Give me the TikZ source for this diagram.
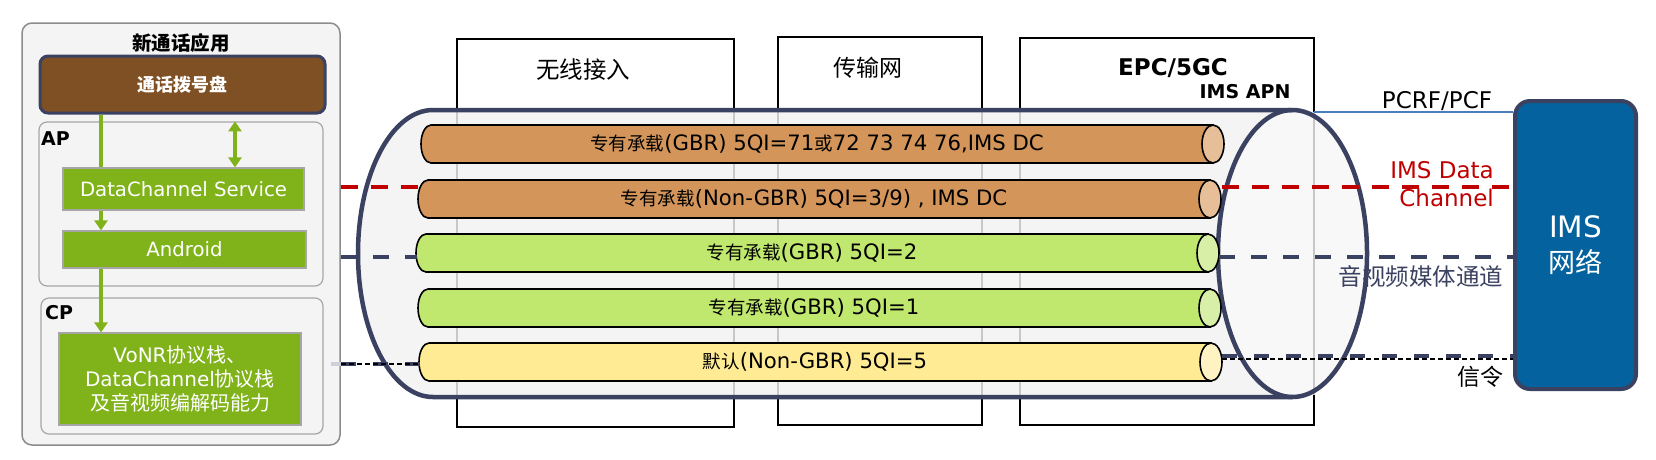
\documentclass[tikz,border=0pt]{standalone}
\usepackage{fontspec}
\setmainfont{DejaVu Sans}
\newfontfamily\cjk{Noto Sans CJK SC}
\usetikzlibrary{arrows.meta}
\definecolor{cNavy}{HTML}{3B4160}
\definecolor{cRed}{HTML}{C00000}
\definecolor{cGreen}{HTML}{80B219}
\definecolor{cBrown}{HTML}{7F5024}
\definecolor{cOrange}{HTML}{D3955A}
\definecolor{cOrangeCap}{HTML}{E6BE98}
\definecolor{cLime}{HTML}{C1E86E}
\definecolor{cLimeCap}{HTML}{D8EFA8}
\definecolor{cYellow}{HTML}{FFEB94}
\definecolor{cYellowCap}{HTML}{FFF3C4}
\definecolor{cIMS}{HTML}{04639E}
\definecolor{cBlueLine}{HTML}{4A7EBB}
\definecolor{cPanel}{HTML}{F4F4F4}
\definecolor{cPanelBorder}{HTML}{8C8C8C}
\definecolor{cSubBorder}{HTML}{A6A6A6}
\definecolor{cColIn}{HTML}{C8C8C8}
\newcommand\zh[1]{{\cjk #1}}
\newcommand\zs[1]{{\cjk\fontsize{18.5}{20}\selectfont #1}}
\newcommand\tube[7]{%
  \path[draw=black, line width=1.6pt, fill=#5] (#4,#2-19) -- (#3+10,#2-19)
    arc[start angle=270, end angle=90, x radius=10, y radius=19] -- (#4,#2+19) -- cycle;
  \path[draw=black, line width=1.6pt, fill=#6] (#4,#2) ellipse[x radius=11, y radius=19];
  \coordinate (#1-w) at (#3,#2);
  \coordinate (#1-e) at (#4+11,#2);
  \node[tubetext] (#1) at ({(#3+#4)/2},#2) {#7};
}
\begin{document}
\begin{tikzpicture}[x=1pt,y=-1pt,
  panel/.style={draw=cPanelBorder, line width=1.5pt, fill=cPanel, rounded corners=10pt, inner sep=0},
  subpanel/.style={draw=cSubBorder, line width=1.2pt, fill=cPanel, rounded corners=8pt, inner sep=0},
  gbox/.style={draw=cSubBorder, line width=1.2pt, fill=cGreen, text=white, inner sep=0, font=\fontsize{19.7}{24}\selectfont},
  lbl/.style={font=\bfseries\fontsize{19}{22}\selectfont, inner sep=0},
  colbox/.style={draw=black, line width=1.2pt, fill=white, inner sep=0},
  tubetext/.style={font=\fontsize{21.2}{24}\selectfont, inner sep=0},
  garrow/.style={draw=cGreen, line width=4pt},
  gtip/.style={-{Triangle[width=13pt,length=10pt]}},
  pipeborder/.style={draw=cNavy, line width=4.5pt},
  reddash/.style={draw=cRed, line width=4pt, dash pattern=on 17pt off 13pt},
  navydash/.style={draw=cNavy, line width=4pt, dash pattern=on 16pt off 16pt},
  sigthick/.style={draw=cNavy, line width=4pt, dash pattern=on 15pt off 17pt},
  sigthin/.style={draw=black, line width=1.5pt, dash pattern=on 5pt off 3pt},
]
\useasboundingbox (0,0) rectangle (1656,459);

% ---------------- left panel ----------------
\node[panel, minimum width=318pt, minimum height=422pt] (app) at (181,234) {};
\node[inner sep=0, font={\cjk\bfseries\fontsize{19.5}{22}\selectfont}] (apptitle) at (181,43) {新通话应用};
\node[draw=cNavy, line width=3pt, fill=cBrown, rounded corners=8pt, minimum width=285pt, minimum height=57pt,
      text=white, inner sep=0, font={\cjk\bfseries\fontsize{18}{22}\selectfont}] (dial) at (182.5,84.5) {通话拨号盘};
\node[subpanel, minimum width=284pt, minimum height=164pt] (ap) at (181,204) {};
\node[lbl, anchor=west] (aplbl) at (41,139) {AP};
\node[gbox, minimum width=241pt, minimum height=42pt] (dcs) at (183.5,189) {DataChannel Service};
\node[gbox, minimum width=243pt, minimum height=37pt] (andr) at (184.5,249.5) {Android};
\node[subpanel, minimum width=282pt, minimum height=136pt] (cp) at (182,366) {};
\node[lbl, anchor=west] (cplbl) at (45,313) {CP};
\node[gbox, minimum width=242pt, minimum height=92pt, align=center,
      font=\fontsize{20}{24}\selectfont] (vonr) at (180,379)
      {VoNR\zh{协议栈、}\\DataChannel\zh{协议栈}\\\zh{及音视频编解码能力}};

\coordinate (ax) at (101,0);
\coordinate (bx) at (235,0);
\draw[garrow] (dial.south -| ax) -- (dcs.north -| ax);
\draw[garrow, gtip] (dcs.south -| ax) -- (andr.north -| ax);
\draw[garrow, gtip] (andr.south -| ax) -- (vonr.north -| ax);
\draw[garrow, {Triangle[width=13pt,length=10pt]}-{Triangle[width=13pt,length=10pt]}] (ap.north -| bx) -- (dcs.north -| bx);

% ---------------- columns ----------------
\node[colbox, minimum width=277pt, minimum height=388pt] (col1) at (595.5,233) {};
\node[colbox, minimum width=204pt, minimum height=388pt] (col2) at (880,231) {};
\node[colbox, minimum width=294pt, minimum height=387pt] (col3) at (1167,231.5) {};
\node[inner sep=0, font={\cjk\fontsize{23.5}{26}\selectfont}] (col1t) at (583,70) {无线接入};
\node[inner sep=0, font={\cjk\fontsize{23}{26}\selectfont}] (col2t) at (868,68) {传输网};
\node[inner sep=0, font=\bfseries\fontsize{23}{26}\selectfont] (col3t) at (1173,68) {EPC/5GC};
\node[inner sep=0, font=\bfseries\fontsize{19}{22}\selectfont] (apn) at (1245,92) {IMS APN};

% ---------------- big pipe ----------------
\fill[cPanel] (1292,110) -- (433,110) arc[start angle=270, end angle=90, x radius=75, y radius=143.5] -- (1292,397) -- cycle;
\fill[cPanel!60!white] (1292.5,253.5) ellipse[x radius=74.5, y radius=143.5];
\foreach \xx in {457,734,778,982,1020,1314}
  \draw[cColIn, line width=1.2pt] (\xx,112) -- (\xx,395);
\draw[pipeborder] (1292,110) -- (433,110) arc[start angle=270, end angle=90, x radius=75, y radius=143.5] -- (1292,397);
\draw[pipeborder] (1292.5,253.5) ellipse[x radius=74.5, y radius=143.5];

% ---------------- bearers ----------------
\tube{t1}{144}{421}{1213}{cOrange}{cOrangeCap}{\zs{专有承载}(GBR) 5QI=71\zs{或}72 73 74 76,IMS DC}
\tube{t2}{199}{418}{1210}{cOrange}{cOrangeCap}{\zs{专有承载}(Non-GBR) 5QI=3/9) , IMS DC}
\tube{t3}{253}{416}{1208}{cLime}{cLimeCap}{\zs{专有承载}(GBR) 5QI=2}
\tube{t4}{308}{418}{1210}{cLime}{cLimeCap}{\zs{专有承载}(GBR) 5QI=1}
\tube{t5}{362}{419}{1211}{cYellow}{cYellowCap}{\zs{默认}(Non-GBR) 5QI=5}

% ---------------- IMS network ----------------
\node[draw=cNavy, line width=4pt, fill=cIMS, rounded corners=15pt, minimum width=121pt, minimum height=288pt,
      text=white, align=center, inner sep=0, font=\fontsize{29.5}{35}\selectfont] (ims) at (1575.5,245)
      {IMS\\{\cjk\fontsize{27}{35}\selectfont 网络}};

% ---------------- connectors ----------------
\coordinate (pc) at (1314,112);
\draw[cBlueLine, line width=1.2pt] (pc) -- (ims.west |- pc);

\coordinate (rdL) at (420,187);
\coordinate (rdR) at (1222,187);
\draw[reddash] (app.east |- rdL) -- (rdL);
\draw[reddash] (rdR) -- (ims.west |- rdR);

\coordinate (avL) at (417,257);
\coordinate (avR) at (1219,257);
\draw[navydash] (app.east |- avL) -- (avL);
\draw[navydash] (avR) -- (ims.west |- avR);

\coordinate (sgL) at (420,364);
\coordinate (sgLs) at (331,364);
\coordinate (sgR) at (1222,356);
\coordinate (sgRt) at (1222,359);
\draw[cNavy!25, line width=4pt] (sgLs) -- (app.east |- sgL);
\draw[sigthick] (app.east |- sgL) -- (sgL);
\draw[sigthin] (app.east |- sgL) -- (sgL);
\draw[sigthick] (sgR) -- (ims.west |- sgR);
\draw[sigthin] (sgRt) -- (ims.west |- sgRt);

% ---------------- labels ----------------
\node[inner sep=0, font=\fontsize{23}{26}\selectfont] (pcrf) at (1437,101) {PCRF/PCF};
\node[inner sep=0, anchor=east, align=right, text=cRed, font=\fontsize{23}{28}\selectfont] (imsdc) at (1494,184) {IMS Data\\Channel};
\node[inner sep=0, text=cNavy, font={\cjk\fontsize{23.5}{26}\selectfont}] (avlbl) at (1421,277) {音视频媒体通道};
\node[inner sep=0, font={\cjk\fontsize{23}{26}\selectfont}] (siglbl) at (1480,377) {信令};
\end{tikzpicture}
\end{document}
